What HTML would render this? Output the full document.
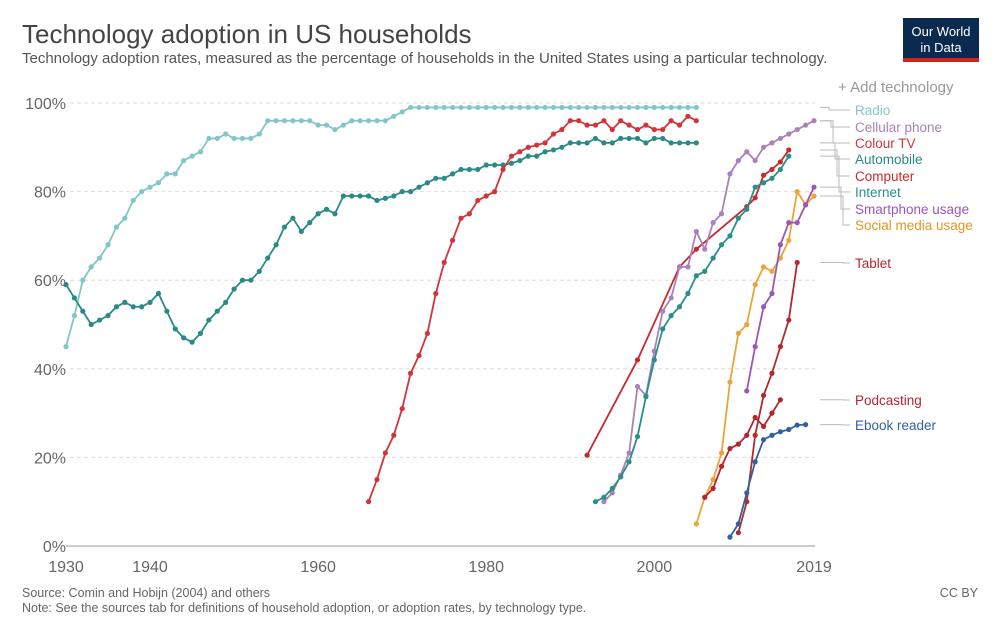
<!DOCTYPE html>
<html><head><meta charset="utf-8"><style>
body{margin:0;background:#fff;font-family:"Liberation Sans",sans-serif;}
#wrap{position:relative;width:1000px;height:624px;overflow:hidden;}
</style></head><body>
<div id="wrap">
<svg id="svg" width="1000" height="624">
<text x="22" y="43" font-size="26" fill="#444">Technology adoption in US households</text>
<text x="22" y="63" font-size="15" fill="#555">Technology adoption rates, measured as the percentage of households in the United States using a particular technology.</text>
<g>
<rect x="903" y="18" width="76" height="44" fill="#0b2a4f"/>
<rect x="903" y="58" width="76" height="4" fill="#ce261e"/>
<text x="941" y="36" font-size="13" fill="#fff" text-anchor="middle">Our World</text>
<text x="941" y="52" font-size="13" fill="#fff" text-anchor="middle">in Data</text>
</g>
<text x="838" y="92" font-size="15" fill="#999">+ Add technology</text>
<g id="grid"></g><g id="series"></g><g id="labels"></g>
<text x="22" y="597" font-size="12.5" fill="#666">Source: Comin and Hobijn (2004) and others</text>
<text x="22" y="612" font-size="12.5" fill="#666">Note: See the sources tab for definitions of household adoption, or adoption rates, by technology type.</text>
<text x="978" y="597" font-size="12.5" fill="#666" text-anchor="end">CC BY</text>
</svg></div>
<script>
const yTicks=[0,20,40,60,80,100];
const xTicks=[1930,1940,1960,1980,2000,2019];
const radioStart=1930;
const radioVals=[45,52,60,63,65,68,72,74,78,80,81,82,84,84,87,88,89,92,92,93,92,92,92,93,96,96,96,96,96,96,95,95,94,95,96,96,96,96,96,97,98,99,99,99,99,99,99,99,99,99,99,99,99,99,99,99,99,99,99,99,99,99,99,99,99,99,99,99,99,99,99,99,99,99,99,99];
const autoStart=1930;
const autoVals=[59,56,53,50,51,52,54,55,54,54,55,57,53,49,47,46,48,51,53,55,58,60,60,62,65,68,72,74,71,73,75,76,75,79,79,79,79,78,78.5,79,80,80,81,82,83,83,84,85,85,85,86,86,86,86.4,87,88,88,89,89.4,90,91,91,91,92,91,91,92,92,92,91,92,92,91,91,91,91];
const tvStart=1966;
const tvVals=[10,15,21,25,31,39,43,48,57,64,69,74,75,78,79,80,85,88,89,90,90.5,91,93,94,96,96,95,95,96,94,96,95,94,95,94,94,96,95,97,96];
const compYears=[1992,1998,2003,2005,2011,2012,2013,2014,2015,2016];
const compVals=[20.5,42,63,67,76.6,78.6,83.7,85,86.7,89.4];
const cellStart=1994;
const cellVals=[10,12,16,21,36,34,44,53,56,63,63,71,67,73,75,84,87,89,87,90,91,92,93,94,95,96];
const netStart=1993;
const netVals=[10,11,13,15.6,19,24.7,33.7,42,49,52,54,57,61,62,65,68,70,74,76,81,82,83,85,88];
const socialStart=2005;
const socialVals=[5,11,15,21,37,48,50,59,63,62,65,69,80,77,79];
const smartStart=2011;
const smartVals=[35,45,54,57,68,73,73,77,81];
const podStart=2006;
const podVals=[11,13,18,22,23,25,29,27,30,33];
const tabStart=2010;
const tabVals=[3,10,25,34,39,45,51,64];
const ebookStart=2009;
const ebookVals=[2,5,12,19,24,25,25.8,26.3,27.3,27.4];

const X=y=>66+(y-1930)*748/89;
const Y=v=>546-v*4.43;
const NS="http://www.w3.org/2000/svg";
function mk(t,a,p){const e=document.createElementNS(NS,t);for(const k in a)e.setAttribute(k,a[k]);p.appendChild(e);return e;}
const grid=document.getElementById('grid');
yTicks.forEach(v=>{
 if(v>0){const l=mk('line',{x1:70,x2:815,y1:Y(v),y2:Y(v),stroke:'#ddd','stroke-dasharray':'4,3'},grid);
 
 }
 const t=mk('text',{x:66,y:Y(v)+6,'font-size':16,fill:'#666','text-anchor':'end'},grid);t.textContent=v+'%';
 
 
});
const ax=mk('line',{x1:66,x2:815,y1:546,y2:546,stroke:'#ccc','stroke-width':2},grid);


xTicks.forEach(y=>{const t=mk('text',{x:X(y),y:572,'font-size':16,fill:'#666','text-anchor':'middle'},grid);t.textContent=y;
 
 });
const ser=document.getElementById('series');
function draw(name,years,vals,col){
 const g=mk('g',{},ser);
 
 
 mk('polyline',{points:years.map((y,i)=>X(y)+','+Y(vals[i])).join(' '),fill:'none',stroke:col,'stroke-width':1.8},g);
 years.forEach((y,i)=>mk('circle',{cx:X(y),cy:Y(vals[i]),r:2.6,fill:col},g));
}
const yrs=(s,v)=>v.map((_,i)=>s+i);
draw('radio',yrs(radioStart,radioVals),radioVals,'#83c6c6');
draw('automobile',yrs(autoStart,autoVals),autoVals,'#2a8a85');
draw('colour-tv',yrs(tvStart,tvVals),tvVals,'#d0353b');
draw('computer',compYears,compVals,'#c8292f');
draw('cellular-phone',yrs(cellStart,cellVals),cellVals,'#a882bb');
draw('internet',yrs(netStart,netVals),netVals,'#2b8f89');
draw('social-media',yrs(socialStart,socialVals),socialVals,'#e9a53a');
draw('smartphone',yrs(smartStart,smartVals),smartVals,'#9a57b5');
draw('podcasting',yrs(podStart,podVals),podVals,'#b3262e');
draw('tablet',yrs(tabStart,tabVals),tabVals,'#b22a30');
draw('ebook-reader',yrs(ebookStart,ebookVals),ebookVals,'#3560a0');
const lab=document.getElementById('labels');
const L=[['Radio',99,110,'#83c6c6'],['Cellular phone',96,127,'#a882bb'],['Colour TV',96,143,'#d0353b'],['Automobile',91,159,'#2a8a85'],['Computer',89.4,176,'#c8292f'],['Internet',88,192,'#2b8f89'],['Smartphone usage',81,209,'#9a57b5'],['Social media usage',79,225,'#e0951f'],['Tablet',64,263,'#b22a30'],['Podcasting',33,400,'#b3262e'],['Ebook reader',27.4,425,'#3560a0']];
L.forEach((d,i)=>{
 const y0=Y(d[1]);const xm=829+Math.min(i,7)*2;
 mk('polyline',{points:`820,${y0} ${xm},${y0} ${xm},${d[2]} 850,${d[2]}`,fill:'none',stroke:'#bbb','stroke-width':1},lab);
 const t=mk('text',{x:855,y:d[2]+5,'font-size':13.5,fill:d[3]},lab);t.textContent=d[0];
 
 
});
</script>
</body></html>
